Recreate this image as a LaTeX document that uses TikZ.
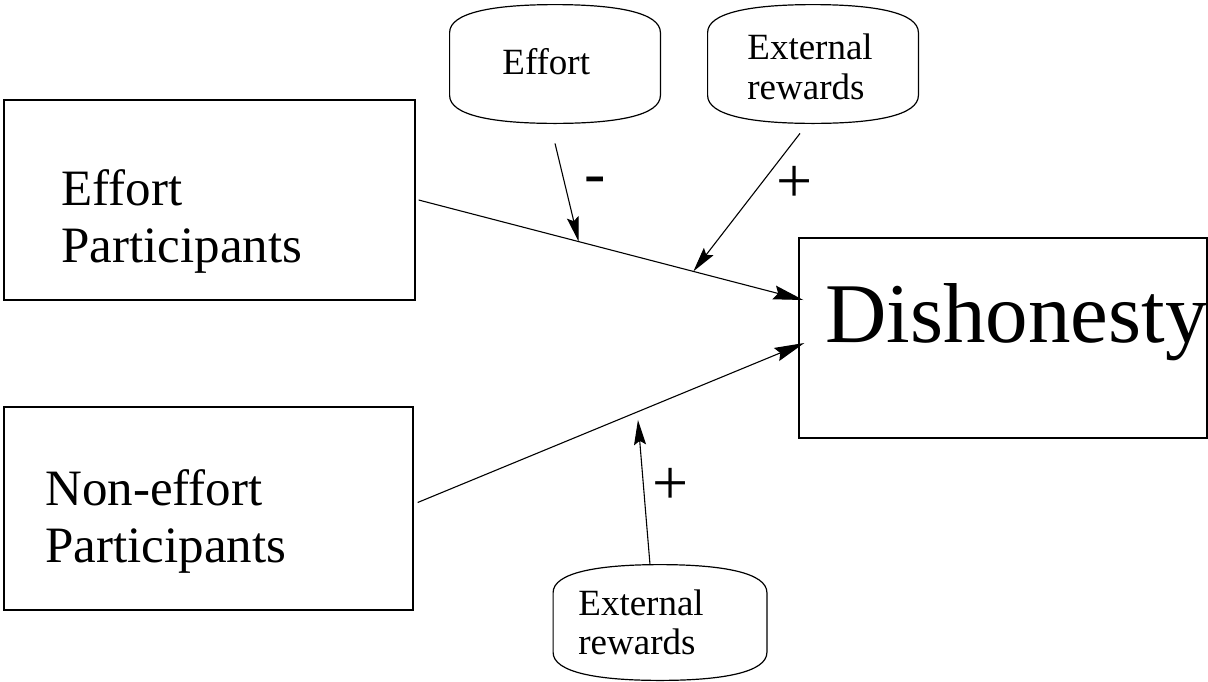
\documentclass[tikz,border=0pt]{standalone}
\usepackage{fontspec}
\setmainfont{Liberation Serif}
\usetikzlibrary{arrows.meta}
\newcommand\candraw[1]{%
 \draw[canline] ([yshift=-14pt]#1.north west) -- ([yshift=14pt]#1.south west)
   .. controls ([yshift=4pt]#1.south west) and ([xshift=-31pt]#1.south) .. (#1.south)
   .. controls ([xshift=31pt]#1.south) and ([yshift=4pt]#1.south east) .. ([yshift=14pt]#1.south east)
   -- ([yshift=-14pt]#1.north east)
   .. controls ([yshift=-4pt]#1.north east) and ([xshift=31pt]#1.north) .. (#1.north)
   .. controls ([xshift=-31pt]#1.north) and ([yshift=-4pt]#1.north west) .. cycle;}
\begin{document}
\begin{tikzpicture}[x=0.5pt,y=-0.5pt,
  box/.style={draw, line width=0.65pt, inner sep=0pt},
  big/.style={font=\fontsize{25.5}{28.5}\selectfont, inner sep=0pt, anchor=base west},
  huge/.style={font=\fontsize{42.5}{45}\selectfont, inner sep=0pt, anchor=base west},
  small/.style={font=\fontsize{18.5}{21}\selectfont, inner sep=0pt, anchor=base west},
  can/.style={inner sep=0pt, minimum width=105pt, minimum height=59pt},
  canline/.style={line width=0.6pt},
  sign/.style={font=\fontsize{32}{32}\selectfont, inner sep=0pt},
  link/.style={line width=0.55pt, -{Stealth[length=15pt,width=7pt,inset=2pt]}},
  mod/.style={line width=0.55pt, -{Stealth[length=12.5pt,width=6pt,inset=2pt]}}]
\useasboundingbox (0,0) rectangle (1208,681);

% boxes
\node[box, minimum width=205.5pt, minimum height=100pt] (ep) at (209.5,200) {};
\node[box, minimum width=204.5pt, minimum height=101.5pt] (ne) at (208.5,508.5) {};
\node[box, minimum width=204pt, minimum height=100pt] (dis) at (1003,338) {};

\node[big] (ept1) at (61,205) {Effort};
\node[big] (ept2) at (61,262) {Participants};
\node[big] (net1) at (45,505) {Non-effort};
\node[big] (net2) at (45,562) {Participants};
\node[huge] (dist) at (825,342) {Dishonesty};

% cylinders
\node[can] (ef) at (555,64) {};
\node[can] (er1) at (813,64) {};
\node[can, minimum width=106.5pt, minimum height=57.5pt] (er2) at (660,622.5) {};
\candraw{ef}
\candraw{er1}
\candraw{er2}
\node[small] (eft) at (502,74) {Effort};
\node[small] (er1a) at (747,59) {External};
\node[small] (er1b) at (747,99) {rewards};
\node[small] (er2a) at (578,615) {External};
\node[small] (er2b) at (578,654) {rewards};

% connectors
\coordinate (d1) at ([xshift=2.5pt,yshift=19pt]dis.west);
\coordinate (d2) at ([xshift=3pt,yshift=-2.5pt]dis.west);
\draw[link] ([xshift=1.5pt]ep.east) -- coordinate[pos=0.416] (m1) coordinate[pos=0.714] (m2) (d1);
\draw[link] ([xshift=2pt,yshift=3pt]ne.east) -- coordinate[pos=0.568] (m3) (d2);
\draw[mod] ([yshift=-10pt]ef.south) -- (m1);
\draw[mod] ([xshift=-6.5pt,yshift=-5pt]er1.south) -- (m2);
\draw[mod, shorten >=4pt] ([xshift=-5pt]er2.north) -- (m3);

% signs
\node[sign] (s1) at (595,186) {-};
\node[sign] (s2) at (795,184) {+};
\node[sign] (s3) at (671,486) {+};
\end{tikzpicture}
\end{document}
